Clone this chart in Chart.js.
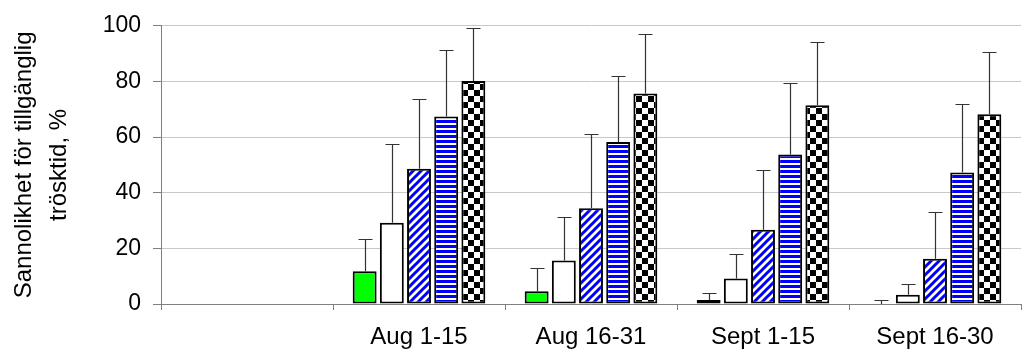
<!DOCTYPE html>
<html>
<head>
<meta charset="utf-8">
<script src="https://cdn.jsdelivr.net/npm/chart.js@4.4.1/dist/chart.umd.min.js"></script>
<style>
html,body{margin:0;padding:0;background:#fff;}
#wrap{width:1022px;height:352px;}
</style>
</head>
<body>
<div id="wrap"><canvas id="c" width="1022" height="352"></canvas></div>
<script>
const categories = ['', 'Aug 1-15', 'Aug 16-31', 'Sept 1-15', 'Sept 16-30'];
const yTicks = [0, 20, 40, 60, 80, 100];
const yTitle = ['Sannolikhet för tillgänglig', 'trösktid, %'];

const greenVals = [0, 11.8, 4.6, 1.4, 0];
const greenErr  = [0, 11.5, 8.4, 2.6, 1.3];
const whiteVals = [0, 29.2, 15.6, 9.2, 3.3];
const whiteErr  = [0, 28.4, 15.6, 8.9, 3.8];
const diagVals  = [0, 48.6, 34.4, 26.7, 16.3];
const diagErr   = [0, 25.2, 26.6, 21.3, 16.8];
const horizVals = [0, 67.4, 58.2, 53.7, 47.3];
const horizErr  = [0, 23.8, 23.8, 25.6, 24.7];
const checkVals = [0, 80.2, 75.7, 71.4, 68.2];
const checkErr  = [0, 19.0, 21.3, 22.6, 22.5];

function makePattern(w, h, draw) {
  const cv = document.createElement('canvas');
  cv.width = w; cv.height = h;
  const g = cv.getContext('2d');
  g.fillStyle = '#fff'; g.fillRect(0, 0, w, h);
  draw(g);
  return document.getElementById('c').getContext('2d').createPattern(cv, 'repeat');
}
const diagPattern = makePattern(8, 8, g => {
  g.strokeStyle = '#0000ff'; g.lineWidth = 3;
  g.beginPath();
  g.moveTo(-1, 9); g.lineTo(9, -1);
  g.moveTo(-5, 5); g.lineTo(5, -5);
  g.moveTo(3, 13); g.lineTo(13, 3);
  g.stroke();
});
const horizPattern = makePattern(4, 5, g => {
  g.fillStyle = '#0000ff'; g.fillRect(0, 0, 4, 3);
});
const checkPattern = makePattern(12, 12, g => {
  g.fillStyle = '#000'; g.fillRect(0, 0, 6, 6); g.fillRect(6, 6, 6, 6);
});

const series = [
  {vals: greenVals, err: greenErr, bg: '#00ff00'},
  {vals: whiteVals, err: whiteErr, bg: '#ffffff'},
  {vals: diagVals, err: diagErr, bg: diagPattern},
  {vals: horizVals, err: horizErr, bg: horizPattern},
  {vals: checkVals, err: checkErr, bg: checkPattern}
];

const errorBars = {
  id: 'errorBars',
  afterDatasetsDraw(chart) {
    const ctx = chart.ctx;
    const y = chart.scales.y;
    ctx.save();
    ctx.strokeStyle = '#333';
    ctx.lineWidth = 1.2;
    chart.data.datasets.forEach((ds, i) => {
      const meta = chart.getDatasetMeta(i);
      meta.data.forEach((bar, j) => {
        const e = ds.errors[j];
        if (!e) return;
        const top = y.getPixelForValue(ds.data[j] + e);
        const base = y.getPixelForValue(ds.data[j]);
        const x = Math.round(bar.x) + 0.5;
        ctx.beginPath();
        ctx.moveTo(x, base);
        ctx.lineTo(x, Math.round(top) + 0.5);
        ctx.moveTo(x - 7, Math.round(top) + 0.5);
        ctx.lineTo(x + 7, Math.round(top) + 0.5);
        ctx.stroke();
      });
    });
    ctx.restore();
  }
};

const family = '"Liberation Sans", Arial, sans-serif';

new Chart(document.getElementById('c'), {
  type: 'bar',
  data: {
    labels: categories,
    datasets: series.map(s => ({
      data: s.vals,
      errors: s.err,
      backgroundColor: s.bg,
      borderColor: '#000',
      borderWidth: 2,
      borderSkipped: false,
      categoryPercentage: 0.79,
      barPercentage: 0.88
    }))
  },
  options: {
    responsive: false,
    animation: false,
    events: [],
    layout: {padding: {left: 0, right: 1, top: 24, bottom: 0}},
    plugins: {legend: {display: false}, tooltip: {enabled: false}},
    scales: {
      x: {
        grid: {display: true, offset: true, drawOnChartArea: false, drawTicks: true, tickLength: 6, color: '#808080'},
        border: {color: '#808080', width: 1},
        ticks: {color: '#000', font: {family: family, size: 24}, padding: 13, maxRotation: 0},
        afterFit(s) { s.height = 48; }
      },
      y: {
        min: 0, max: 100,
        afterBuildTicks(s) { s.ticks = yTicks.map(v => ({value: v})); },
        grid: {color: '#c8c8c8', tickColor: '#808080', tickLength: 8, lineWidth: 1},
        border: {color: '#808080', width: 1},
        ticks: {color: '#000', font: {family: family, size: 23}, padding: 12},
        title: {display: true, text: yTitle, color: '#000', font: {family: family, size: 24, lineHeight: 1.45}, padding: {top: 7, bottom: 0}},
        afterFit(s) { s.width = 161; }
      }
    }
  },
  plugins: [errorBars]
});
</script>
</body>
</html>
